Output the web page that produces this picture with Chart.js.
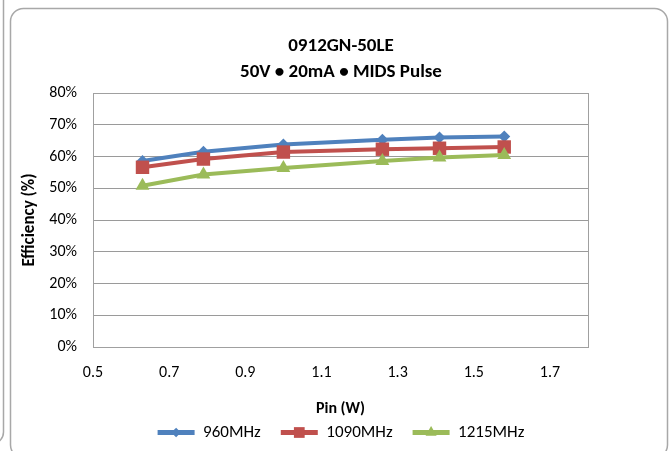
<!DOCTYPE html>
<html><head><meta charset="utf-8">
<script src="https://cdn.jsdelivr.net/npm/chart.js@4/dist/chart.umd.min.js"></script>
<style>html,body{margin:0;padding:0;background:#fff}#wrap{width:670px;height:451px;position:relative}</style>
</head><body><div id="wrap"><canvas id="c" width="670" height="451"></canvas></div>
<script>
const pinW = [0.63, 0.79, 1.0, 1.26, 1.41, 1.58];
const eff960 = [58.6, 61.5, 63.8, 65.3, 66.0, 66.3];
const eff1090 = [56.6, 59.2, 61.4, 62.3, 62.6, 63.0];
const eff1215 = [50.8, 54.3, 56.4, 58.6, 59.7, 60.5];
const seriesNames = ['960MHz', '1090MHz', '1215MHz'];
const xTickValues = [0.5, 0.7, 0.9, 1.1, 1.3, 1.5, 1.7];
const yTickValues = [0, 10, 20, 30, 40, 50, 60, 70, 80];
const titleLines = ['0912GN-50LE', '50V \u2022 20mA \u2022 MIDS Pulse'];
const xTitle = 'Pin (W)';
const yTitle = 'Efficiency (%)';

const FONT = 'Carlito, Lato, sans-serif';
const colors = ['#4F81BD', '#C0504D', '#9BBB59'];
const styles = [
  {pointStyle: 'rectRot', radius: 6},
  {pointStyle: 'rect', radius: 9.5},
  {pointStyle: 'triangle', radius: 8}
];
const allSeries = [eff960, eff1090, eff1215];

const datasets = allSeries.map((vals, i) => ({
  label: seriesNames[i],
  data: vals.map((v, j) => ({x: pinW[j], y: v})),
  borderColor: colors[i],
  backgroundColor: colors[i],
  borderWidth: 4,
  pointStyle: styles[i].pointStyle,
  pointRadius: styles[i].radius,
  pointBorderWidth: 0,
  pointBackgroundColor: colors[i],
  tension: 0,
  yAxisID: 'y',
  order: 3 - i
}));

const framePlugin = {
  id: 'frame',
  beforeDraw(chart) {
    const ctx = chart.ctx;
    ctx.save();
    ctx.fillStyle = '#fff';
    ctx.fillRect(0, 0, chart.width, chart.height);
    ctx.strokeStyle = '#a8a8a8';
    ctx.lineWidth = 1.5;
    ctx.beginPath();
    ctx.moveTo(3.5, 0);
    ctx.lineTo(3.5, 432);
    ctx.arcTo(3.5, 444, -8, 444, 12);
    ctx.stroke();
    ctx.beginPath();
    const x0 = 10.5, y0 = 8.5, x1 = 667.5, y1 = 458, r = 13;
    ctx.moveTo(x0 + r, y0);
    ctx.lineTo(x1 - r, y0);
    ctx.arcTo(x1, y0, x1, y0 + r, r);
    ctx.lineTo(x1, y1 - r);
    ctx.arcTo(x1, y1, x1 - r, y1, r);
    ctx.lineTo(x0 + r, y1);
    ctx.arcTo(x0, y1, x0, y1 - r, r);
    ctx.lineTo(x0, y0 + r);
    ctx.arcTo(x0, y0, x0 + r, y0, r);
    ctx.stroke();
    ctx.restore();
  },
  beforeDatasetsDraw(chart) {
    const a = chart.chartArea, ctx = chart.ctx;
    ctx.save();
    ctx.strokeStyle = '#a0a0a0';
    ctx.lineWidth = 1;
    ctx.strokeRect(Math.round(a.left) + 0.5, Math.round(a.top) + 0.5, Math.round(a.right - a.left), Math.round(a.bottom - a.top));
    ctx.restore();
  },
  afterDraw(chart) {
    const lg = chart.legend;
    if (!lg || !lg.legendHitBoxes) return;
    const ctx = chart.ctx;
    const bw = lg.options.labels.boxWidth;
    lg.legendHitBoxes.forEach((hb, k) => {
      const item = lg.legendItems[k];
      const i = item.datasetIndex;
      ctx.save();
      ctx.fillStyle = colors[i];
      ctx.strokeStyle = colors[i];
      Chart.helpers.drawPoint(ctx, {pointStyle: styles[i].pointStyle, radius: styles[i].radius * 0.8, rotation: 0, borderWidth: 0}, hb.left + bw / 2, hb.top + hb.height / 2);
      ctx.restore();
    });
  }
};

new Chart(document.getElementById('c'), {
  type: 'line',
  data: {datasets},
  plugins: [framePlugin],
  options: {
    responsive: false,
    animation: false,
    devicePixelRatio: 1,
    layout: {padding: {top: 0, left: 12, right: 0, bottom: 0}},
    plugins: {
      tooltip: {enabled: false},
      title: {
        display: true,
        text: titleLines,
        color: '#000',
        font: {family: FONT, size: 19, weight: 'bold', lineHeight: 26 / 19},
        padding: {top: 33, bottom: 8}
      },
      legend: {
        position: 'bottom',
        align: 'center',
        labels: {
          sort: (a, b) => a.datasetIndex - b.datasetIndex,
          boxWidth: 37,
          boxHeight: 5,
          padding: 20,
          color: '#000',
          font: {family: FONT, size: 17},
          generateLabels(chart) {
            return chart.data.datasets.map((d, i) => ({
              text: d.label, fillStyle: colors[i], strokeStyle: colors[i], lineWidth: 0, datasetIndex: i, hidden: false
            }));
          }
        }
      }
    },
    scales: {
      x: {
        type: 'linear',
        min: 0.5,
        max: 1.8,
        afterBuildTicks(scale) { scale.ticks = xTickValues.map(v => ({value: v})); },
        afterFit(scale) { scale.height = 57; },
        grid: {display: false, drawTicks: false},
        border: {display: false},
        ticks: {
          padding: 16,
          color: '#000',
          font: {family: FONT, size: 16},
          callback: v => v.toFixed(1)
        },
        title: {
          display: true,
          text: xTitle,
          color: '#000',
          font: {family: FONT, size: 16, weight: 'bold'},
          padding: {top: 0, bottom: -15}
        }
      },
      y: {
        min: 0,
        max: 80,
        afterBuildTicks(scale) { scale.ticks = yTickValues.map(v => ({value: v})); },
        afterFit(scale) { scale.width = 81; },
        grid: {color: '#9a9a9a', lineWidth: 1, drawTicks: false},
        border: {display: false},
        ticks: {
          padding: 16,
          color: '#000',
          font: {family: FONT, size: 16},
          callback: v => v + '%'
        },
        title: {
          display: true,
          text: yTitle,
          color: '#000',
          font: {family: FONT, size: 17, weight: 'bold'},
          padding: {top: 8, bottom: 0}
        }
      },
      yRight: {
        type: 'linear',
        position: 'right',
        min: 0,
        max: 80,
        afterFit(scale) { scale.width = 82; },
        grid: {display: false, drawTicks: false},
        border: {display: false},
        ticks: {display: false}
      }
    }
  }
});
</script>
</body></html>
